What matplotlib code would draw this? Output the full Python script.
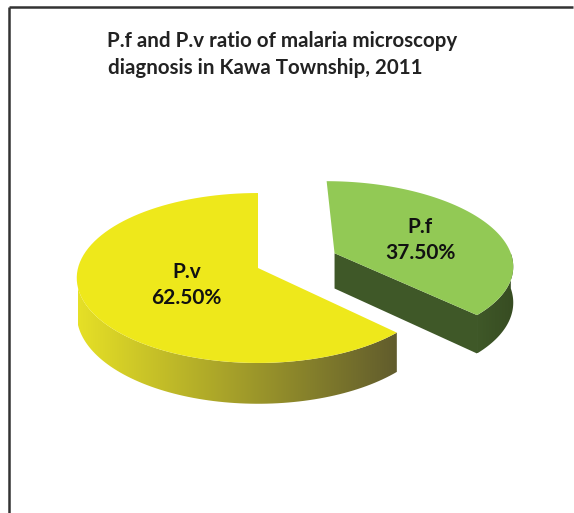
import numpy as np
import matplotlib.pyplot as plt
from matplotlib.patches import Polygon
from matplotlib.colors import LinearSegmentedColormap

labels = ['P.f', 'P.v']
values = [37.5, 62.5]
top_colors = ['#92c955', '#eee81b']
side_colors = [('#3f5828', '#374c22'), ('#e6e026', '#615c2d')]
title_lines = ['P.f and P.v ratio of malaria microscopy',
               'diagnosis in Kawa Township, 2011']

W, H = 574, 513
fig = plt.figure(figsize=(W / 100, H / 100), dpi=100)
ax = fig.add_axes([0, 0, 1, 1])
ax.set_xlim(0, W)
ax.set_ylim(H, 0)
ax.axis('off')

# pie geometry: unit circle in the table plane, projected with a
# simple perspective (pixel-like units, y grows downward)
cx, cy = 258, 268
sx, sy = 180, 83.8
persp = 0.1176
depth = 36
start = -45
explode = [0.47, 0.0]
label_r = [0.55, 0.42]


def proj(X, Z, h=0.0):
    d = 1 + persp * Z
    return cx + sx * X / d, cy - sy * Z / d + depth * h / d


def rim(o, t0, t1, h=0.0, n=90):
    ts = np.radians(np.linspace(t0, t1, n))
    xs, ys = proj(o[0] + np.cos(ts), o[1] + np.sin(ts), h)
    return np.column_stack([xs, ys])


def gradient_fill(poly, c0, c1, x0, x1):
    patch = Polygon(poly, closed=True, facecolor='none', edgecolor='none')
    ax.add_patch(patch)
    cmap = LinearSegmentedColormap.from_list('g', [c0, c1])
    grad = np.linspace(0, 1, 256).reshape(1, -1)
    ymin, ymax = poly[:, 1].min(), poly[:, 1].max()
    im = ax.imshow(grad, cmap=cmap, aspect='auto',
                   extent=(x0, x1, ymax, ymin), zorder=2)
    im.set_clip_path(patch)


total = sum(values)
slices = []
t = start
for v, e in zip(values, explode):
    span = 360 * v / total
    mid = t + span / 2
    o = (e * np.cos(np.radians(mid)), e * np.sin(np.radians(mid)))
    slices.append((t, t + span, mid, o))
    t += span

# draw P.v first (left), then P.f
for i in [1, 0]:
    t0, t1, mid, o = slices[i]
    sc0, sc1 = side_colors[i]

    # visible part of the curved outer wall (front half)
    a0 = t0 % 360
    a1 = a0 + (t1 - t0)
    for lo, hi in [(180, 360), (540, 720)]:
        s0, s1 = max(a0, lo), min(a1, hi)
        if s1 > s0:
            poly = np.vstack([rim(o, s0, s1), rim(o, s1, s0, 1.0)])
            xl = cx - sx if i == 1 else poly[:, 0].min()
            gradient_fill(poly, sc0, sc1, xl, poly[:, 0].max())

    # flat cut faces facing the viewer
    faces = []
    if np.cos(np.radians(t0)) > 1e-6:
        faces.append(t0)
    if np.cos(np.radians(t1)) < -1e-6:
        faces.append(t1)
    for tf in faces:
        r = np.radians(tf)
        ex, ez = o[0] + np.cos(r), o[1] + np.sin(r)
        poly = np.array([proj(o[0], o[1]), proj(ex, ez),
                         proj(ex, ez, 1.0), proj(o[0], o[1], 1.0)])
        ax.add_patch(Polygon(poly, closed=True, facecolor=sc0,
                             edgecolor='none', zorder=2.5))

    # top surface
    c = proj(o[0], o[1])
    top = np.vstack([c, rim(o, t0, t1), c])
    ax.add_patch(Polygon(top, closed=True, facecolor=top_colors[i],
                         edgecolor='none', zorder=3))

    rm = np.radians(mid)
    lx, ly = proj(o[0] + label_r[i] * np.cos(rm), o[1] + label_r[i] * np.sin(rm))
    ax.text(lx, ly + 3, f'{labels[i]}\n{values[i]:.2f}%', ha='center',
            va='center', fontsize=15, fontweight='bold', family='Lato',
            color='#111111', linespacing=1.35, zorder=4)

# title
ax.text(282, 41, title_lines[0], ha='center', va='center', fontsize=14.8,
        fontweight='bold', family='Lato', color='#222222')
ax.text(265, 68, title_lines[1], ha='center', va='center', fontsize=14.8,
        fontweight='bold', family='Lato', color='#222222')

# chart frame (top and left edges)
ax.plot([8.5, 573], [6.5, 6.5], color='#333333', lw=1.8, solid_capstyle='butt')
ax.plot([8.5, 8.5], [6.5, 513], color='#333333', lw=1.8, solid_capstyle='butt')

fig.savefig('out.png', dpi=100)
